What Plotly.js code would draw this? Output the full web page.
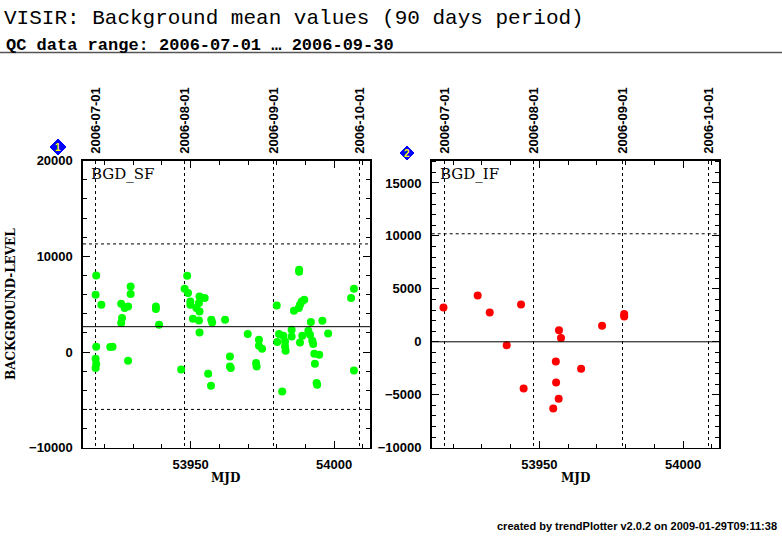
<!DOCTYPE html>
<html>
<head>
<meta charset="utf-8">
<script src="https://cdn.plot.ly/plotly-3.0.1.min.js"></script>
<style>
  html, body { margin: 0; padding: 0; background: #fff; }
  #chart { width: 782px; height: 542px; }
</style>
</head>
<body>
<div id="chart"></div>
<script>
/* global Plotly */
const W = 782;
const H = 542;

// BGD_SF (panel 1)
const sfMjd = [
  53917.1, 53916.9, 53918.9, 53925.8, 53927.0, 53928.2, 53929.1, 53929.1, 53926.1, 53925.8,
  53937.9, 53937.9, 53939.0, 53948.8, 53947.9, 53949.1, 53949.9, 53949.9, 53953.1, 53954.9,
  53952.9, 53952.0, 53953.1, 53950.8, 53952.9, 53957.2, 53957.5, 53962.0, 53953.1, 53917.1,
  53922.0, 53922.8, 53916.9, 53917.1, 53916.9, 53928.2, 53946.7, 53956.1, 53957.1,
  53987.8, 53987.8, 54006.9, 54005.9, 53980.0, 53989.6, 53988.7, 53988.1, 53987.7, 53986.0,
  53991.9, 53995.9, 53985.2, 53969.9, 53980.8, 53982.3, 53985.2, 53988.9, 53991.0, 53991.6,
  53997.9, 53973.8, 53980.2, 53982.9, 53988.1, 53992.4, 53992.7, 53973.8, 53974.9, 53982.9,
  53983.1, 53993.1, 53994.8, 53963.7, 53964.0, 53963.7, 53972.8, 53973.0, 53993.3, 54006.9,
  53993.9, 53994.1, 53981.9
];
const sfVal = [
  8000, 6000, 4950, 5050, 4600, 4770, 6860, 6060, 3550, 3030,
  4770, 4500, 2850, 7980, 6620, 6170, 5290, 4940, 5810, 5640,
  5120, 4600, 4240, 3480, 3300, 3380, 3090, 3380, 2050, 550,
  520, 560, -700, -1250, -1670, -910, -1820, -2270, -3520,
  8600, 8400, 6620, 5640, 4870, 5470, 5290, 4940, 4600, 4320,
  3140, 3270, 2330, 1880, 1880, 1700, 1630, 1700, 2230, 1810,
  1940, 1290, 1050, 1110, 1000, 1180, 840, 660, 350, 590,
  140, -180, -280, -460, -1670, -1500, -1150, -1500, -1220, -1920,
  -3240, -3420, -4120
];

// BGD_IF (panel 2)
const ifMjd = [
  53916.6, 53928.5, 53932.7, 53943.6, 53938.6, 53956.8, 53957.5, 53971.8,
  53979.5, 53979.5, 53955.7, 53964.5, 53955.8, 53944.5, 53956.7, 53954.8
];
const ifVal = [
  3240, 4370, 2770, 3520, -320, 1100, 350, 1510,
  2620, 2390, -1860, -2550, -3840, -4410, -5380, -6300
];

// mean and limit lines
const sfLines = { mean: 2650, upper: 11300, lower: -6000 };
const ifLines = { mean: 0, upper: 10200, lower: -10200 };

// top axis: month starts
const dateMjd = [53917, 53948, 53979, 54009];
const dateText = ['2006-07-01', '2006-08-01', '2006-09-01', '2006-10-01'];

const mjdRange = [53912.5, 54012.5];

function px(x) { return x / W; }
function py(y) { return 1 - y / H; }

const TICK_FONT = { family: 'Liberation Sans, Arial, sans-serif', size: 13, weight: 'bold', color: '#000' };
const SERIF = 'DejaVu Serif, Liberation Serif, serif';

function bottomAxis(domain) {
  return {
    domain: domain,
    range: mjdRange,
    showgrid: false,
    zeroline: false,
    showline: true,
    linecolor: '#000',
    linewidth: 1.6,
    mirror: 'ticks',
    ticks: 'inside',
    ticklen: 7,
    tickcolor: '#000',
    tick0: 0,
    dtick: 50,
    tickformat: 'd',
    minor: { dtick: 10, ticklen: 4, tickcolor: '#000', ticks: 'inside' },
    tickfont: TICK_FONT,
    ticklabelstandoff: 4
  };
}

function topAxis(over, anchor) {
  return {
    overlaying: over,
    anchor: anchor,
    side: 'top',
    range: mjdRange,
    tickmode: 'array',
    tickvals: dateMjd,
    ticktext: dateText,
    tickangle: -90,
    ticks: '',
    showline: false,
    zeroline: false,
    showgrid: true,
    gridcolor: '#000',
    gridwidth: 1,
    griddash: 'dot',
    tickfont: TICK_FONT,
    ticklabelstandoff: 6
  };
}

function leftAxis(range, dtick, minor) {
  return {
    domain: [py(447.7), py(160.7)],
    range: range,
    showgrid: false,
    zeroline: false,
    showline: true,
    linecolor: '#000',
    linewidth: 1.6,
    mirror: 'ticks',
    ticks: 'inside',
    ticklen: 7,
    tickcolor: '#000',
    tick0: 0,
    dtick: dtick,
    tickformat: 'd',
    minor: { dtick: minor, ticklen: 4, tickcolor: '#000', ticks: 'inside' },
    tickfont: TICK_FONT,
    ticklabelstandoff: 6
  };
}

function hline(xref, yref, y, dash) {
  return {
    type: 'line', xref: xref + ' domain', yref: yref,
    x0: 0, x1: 1, y0: y, y1: y,
    line: { color: '#000', width: 1, dash: dash }
  };
}

function diamond(cx, cy, r) {
  return {
    type: 'path', xref: 'paper', yref: 'paper',
    path: 'M ' + px(cx - r) + ',' + py(cy) + ' L ' + px(cx) + ',' + py(cy - r) +
          ' L ' + px(cx + r) + ',' + py(cy) + ' L ' + px(cx) + ',' + py(cy + r) + ' Z',
    fillcolor: '#0000ff',
    line: { color: '#0000ff', width: 1 }
  };
}

const traces = [
  {
    x: sfMjd, y: sfVal, xaxis: 'x', yaxis: 'y', type: 'scatter', mode: 'markers',
    marker: { color: '#00ff00', size: 8 }, hoverinfo: 'skip'
  },
  {
    x: ifMjd, y: ifVal, xaxis: 'x2', yaxis: 'y2', type: 'scatter', mode: 'markers',
    marker: { color: '#ff0000', size: 8 }, hoverinfo: 'skip'
  },
  {
    x: dateMjd, y: dateMjd.map(() => null), xaxis: 'x3', yaxis: 'y',
    type: 'scatter', mode: 'markers', hoverinfo: 'skip'
  },
  {
    x: dateMjd, y: dateMjd.map(() => null), xaxis: 'x4', yaxis: 'y2',
    type: 'scatter', mode: 'markers', hoverinfo: 'skip'
  }
];

const layout = {
  width: W,
  height: H,
  margin: { l: 0, r: 0, t: 0, b: 0 },
  paper_bgcolor: '#fff',
  plot_bgcolor: '#fff',
  showlegend: false,
  title: {
    text: 'VISIR: Background mean values (90 days period)',
    font: { family: 'Liberation Mono, Courier New, monospace', size: 21, color: '#000' },
    xref: 'container', yref: 'container',
    x: px(4), xanchor: 'left',
    y: py(9), yanchor: 'top'
  },
  xaxis: bottomAxis([px(83), px(370)]),
  xaxis2: Object.assign(bottomAxis([px(431.7), px(719)]), { anchor: 'y2' }),
  xaxis3: topAxis('x', 'y'),
  xaxis4: topAxis('x2', 'y2'),
  yaxis: leftAxis([-10000, 20000], 10000, 2000),
  yaxis2: Object.assign(leftAxis([-10000, 17100], 5000, 1000), { anchor: 'x2' }),
  shapes: [
    hline('x', 'y', sfLines.mean, 'solid'),
    hline('x', 'y', sfLines.upper, 'dot'),
    hline('x', 'y', sfLines.lower, 'dot'),
    hline('x2', 'y2', ifLines.mean, 'solid'),
    hline('x2', 'y2', ifLines.upper, 'dot'),
    {
      type: 'line', xref: 'paper', yref: 'paper',
      x0: 0, x1: 1, y0: py(52.5), y1: py(52.5),
      line: { color: '#555', width: 1.5 }
    },
    diamond(58, 147, 8),
    diamond(407, 153, 7)
  ],
  annotations: [
    {
      text: 'QC data range: 2006-07-01 … 2006-09-30',
      xref: 'paper', yref: 'paper', x: px(4), y: py(34), xanchor: 'left', yanchor: 'top',
      showarrow: false,
      font: { family: 'Liberation Mono, Courier New, monospace', size: 17, weight: 'bold', color: '#000' }
    },
    {
      text: 'BGD_SF', xref: 'paper', yref: 'paper', x: px(89), y: py(163),
      xanchor: 'left', yanchor: 'top', showarrow: false,
      font: { family: SERIF, size: 15, color: '#000' }
    },
    {
      text: 'BGD_IF', xref: 'paper', yref: 'paper', x: px(438), y: py(163),
      xanchor: 'left', yanchor: 'top', showarrow: false,
      font: { family: SERIF, size: 15, color: '#000' }
    },
    {
      text: 'BACKGROUND-LEVEL', xref: 'paper', yref: 'paper', x: px(11), y: py(304),
      xanchor: 'center', yanchor: 'middle', textangle: -90, showarrow: false,
      font: { family: SERIF, size: 12, weight: 'bold', color: '#000' }
    },
    {
      text: 'MJD', xref: 'paper', yref: 'paper', x: px(226), y: py(478),
      xanchor: 'center', yanchor: 'middle', showarrow: false,
      font: { family: SERIF, size: 12, weight: 'bold', color: '#000' }
    },
    {
      text: 'MJD', xref: 'paper', yref: 'paper', x: px(575), y: py(478),
      xanchor: 'center', yanchor: 'middle', showarrow: false,
      font: { family: SERIF, size: 12, weight: 'bold', color: '#000' }
    },
    {
      text: '1', xref: 'paper', yref: 'paper', x: px(58), y: py(147),
      xanchor: 'center', yanchor: 'middle', showarrow: false,
      font: { family: 'Liberation Sans, sans-serif', size: 10, weight: 'bold', color: '#ffff00' }
    },
    {
      text: '2', xref: 'paper', yref: 'paper', x: px(407), y: py(153),
      xanchor: 'center', yanchor: 'middle', showarrow: false,
      font: { family: 'Liberation Sans, sans-serif', size: 10, weight: 'bold', color: '#ffff00' }
    },
    {
      text: 'created by trendPlotter v2.0.2 on 2009-01-29T09:11:38',
      xref: 'paper', yref: 'paper', x: px(779), y: py(526),
      xanchor: 'right', yanchor: 'middle', showarrow: false,
      font: { family: 'Liberation Sans, Arial, sans-serif', size: 11, weight: 'bold', color: '#000' }
    }
  ]
};

Plotly.newPlot('chart', traces, layout, { staticPlot: true, displayModeBar: false });
</script>
</body>
</html>
